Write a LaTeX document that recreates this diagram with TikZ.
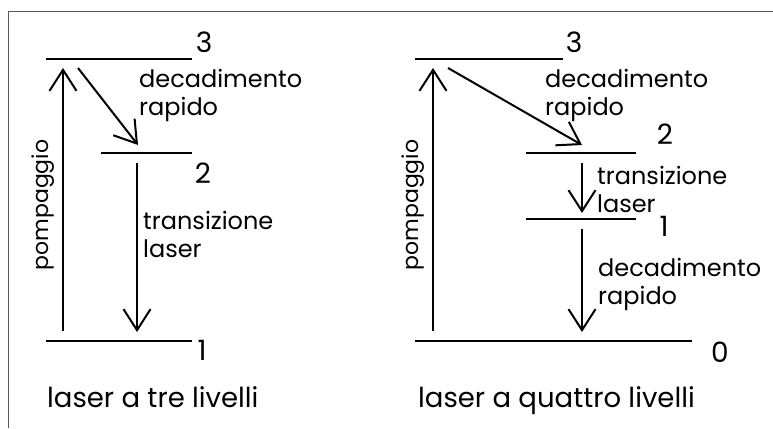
\documentclass[tikz,border=0pt]{standalone}
\usepackage{fontspec}
\setmainfont{Poppins}
\usetikzlibrary{arrows.meta}
\definecolor{frame}{RGB}{90,90,90}
\tikzset{
  lev/.style={line width=2pt},
  arr/.style={-{Straight Barb[length=21pt,width=27pt,line width=2pt]}, line width=2pt},
  lbl/.style={font=\fontsize{24}{27.5}\selectfont, align=left, inner sep=0pt, anchor=base west},
  vlbl/.style={font=\fontsize{22}{27}\selectfont, inner sep=0pt, rotate=90, anchor=base},
  num/.style={font=\fontsize{28}{28}\selectfont, inner sep=0pt},
  ttl/.style={font=\fontsize{27.5}{30}\selectfont, inner sep=0pt, anchor=base west}
}

\begin{document}
\begin{tikzpicture}[x=1pt, y=-1pt]
\useasboundingbox (0,0) rectangle (773,428);
\draw[frame, line width=1pt] (8,428) -- (8,12) -- (773,12);
% laser a tre livelli
\draw[lev] (46,59) -- (192,59);
\draw[lev] (101,153) -- (192,153);
\draw[lev] (46,341) -- (192,341);
\coordinate (A-pump0) at (63,331);
\coordinate (A-pump1) at (63,68);
\coordinate (A-dec0) at (78,68);
\coordinate (A-dec1) at (138,145);
\coordinate (A-las0) at (137,163);
\coordinate (A-las1) at (137,332);
\draw[arr] (A-pump0) -- (A-pump1);
\draw[arr] (A-dec0) -- (A-dec1);
\draw[arr] (A-las0) -- (A-las1);
\node[num] (A-n3) at (204,42) {3};
\node[num] (A-n2) at (203,173) {2};
\node[num] (A-n1) at (202,350) {1};
\node[lbl] (A-dec) at (139,115) {decadimento\\rapido};
\node[lbl] (A-las) at (143,257) {transizione\\laser};
\node[vlbl] (A-pump) at (48,205) {pompaggio};
\node[ttl] (A-ttl) at (47,407) {laser a tre livelli};
% laser a quattro livelli
\draw[lev] (415,59) -- (563,59);
\draw[lev] (526,153) -- (636,153);
\draw[lev] (526,219) -- (636,219);
\draw[lev] (415,341) -- (692,341);
\coordinate (B-pump0) at (433,331);
\coordinate (B-pump1) at (433,68);
\coordinate (B-dec0) at (448,68);
\coordinate (B-dec1) at (582,145);
\coordinate (B-las0) at (582,163);
\coordinate (B-las1) at (582,213);
\coordinate (B-rel0) at (582,229);
\coordinate (B-rel1) at (582,332);
\draw[arr] (B-pump0) -- (B-pump1);
\draw[arr] (B-dec0) -- (B-dec1);
\draw[arr] (B-las0) -- (B-las1);
\draw[arr] (B-rel0) -- (B-rel1);
\node[num] (B-n3) at (574,42) {3};
\node[num] (B-n2) at (665,134) {2};
\node[num] (B-n1) at (664,226) {1};
\node[num] (B-n0) at (720,352) {0};
\node[lbl] (B-dec) at (545,115) {decadimento\\rapido};
\node[lbl] (B-las) at (597,212) {transizione\\laser};
\node[lbl] (B-rel) at (598,304) {decadimento\\rapido};
\node[vlbl] (B-pump) at (418,205) {pompaggio};
\node[ttl] (B-ttl) at (418,407) {laser a quattro livelli};
\end{tikzpicture}
\end{document}
